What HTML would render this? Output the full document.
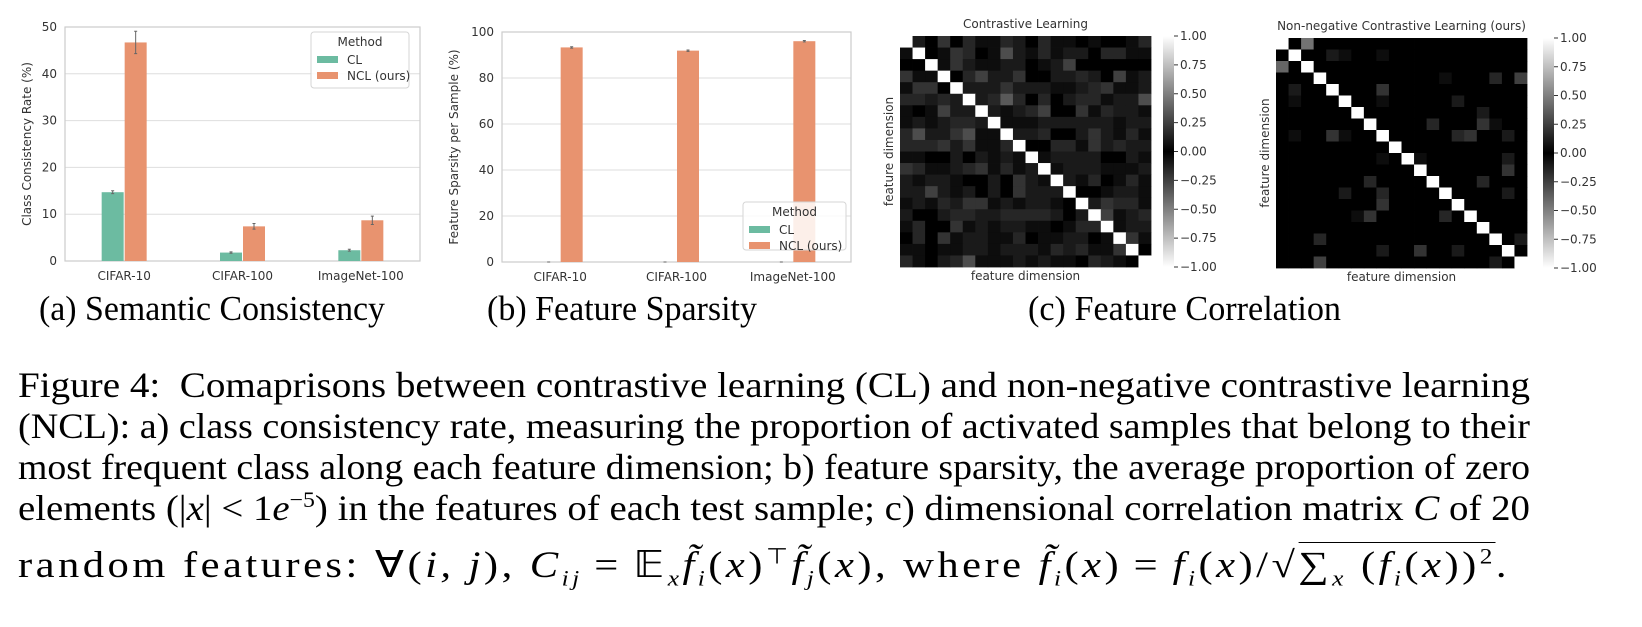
<!DOCTYPE html>
<html><head><meta charset="utf-8">
<style>
html,body{margin:0;padding:0;background:#fff;width:1642px;height:627px;overflow:hidden;position:relative}
svg{position:absolute;left:0;top:0}
.cap{position:absolute;font-family:"Liberation Serif",serif;font-size:35px;line-height:40px;color:#000;white-space:nowrap;transform-origin:0 0}
.line{position:absolute;left:18px;display:inline-block;font-family:"Liberation Serif",serif;font-size:36px;color:#000;white-space:nowrap;line-height:40px;transform-origin:0 0}
.m{font-style:italic}
sub,sup{line-height:0}
.eq{margin:0 10px}
</style></head>
<body>
<svg id="fig" width="1642" height="290" font-family="DejaVu Sans, Liberation Sans, sans-serif"></svg>

<div class="cap" data-w="346" style="left:39px;top:289px">(a) Semantic Consistency</div>
<div class="cap" data-w="270" style="left:487px;top:289px">(b) Feature Sparsity</div>
<div class="cap" data-w="313" style="left:1028px;top:289px">(c) Feature Correlation</div>

<div class="line" data-w="1512" style="top:365px">Figure 4:&nbsp; Comaprisons between contrastive learning (CL) and non-negative contrastive learning</div>
<div class="line" data-w="1512" style="top:406px">(NCL): a) class consistency rate, measuring the proportion of activated samples that belong to their</div>
<div class="line" data-w="1512" style="top:447px">most frequent class along each feature dimension; b) feature sparsity, the average proportion of zero</div>
<div class="line" data-w="1512" style="top:488px">elements (|<span class="m">x</span>| &lt; 1<span class="m">e</span><sup style="font-size:22px">−5</sup>) in the features of each test sample; c) dimensional correlation matrix <span class="m">C</span> of 20</div>
<div class="line" data-w="1492" style="top:546px;font-size:37px;letter-spacing:3px">random features: ∀(<span class="m">i, j</span>), <span class="m">C<sub style="font-size:22px">ij</sub></span><span class="eq">=</span>𝔼<sub style="font-size:22px" class="m">x</sub><span class="m">f̃<sub style="font-size:22px">i</sub></span>(<span class="m">x</span>)<sup style="font-size:22px">⊤</sup><span class="m">f̃<sub style="font-size:22px">j</sub></span>(<span class="m">x</span>), where <span class="m">f̃<sub style="font-size:22px">i</sub></span>(<span class="m">x</span>)<span class="eq">=</span><span class="m">f<sub style="font-size:22px">i</sub></span>(<span class="m">x</span>)/√<span style="border-top:1.5px solid #000;padding-top:2px">∑<sub style="font-size:22px" class="m">x</sub> (<span class="m">f<sub style="font-size:22px">i</sub></span>(<span class="m">x</span>))<sup style="font-size:22px">2</sup></span>.</div>

<script>
// fit caption text widths
document.querySelectorAll('.line, .cap').forEach(el => {
  const w = el.getBoundingClientRect().width;
  const t = parseFloat(el.getAttribute('data-w'));
  el.style.transform = 'scaleX(' + (t / w) + ')';
});

// ---------- data ----------
const categories = ["CIFAR-10", "CIFAR-100", "ImageNet-100"];
const consistencyCL = [14.7, 1.8, 2.3];
const consistencyNCL = [46.7, 7.4, 8.7];
const consistencyErrCL = [0.3, 0.15, 0.2];
const consistencyErrNCL = [2.4, 0.6, 0.9];
const consistencyTicks = [0, 10, 20, 30, 40, 50];
const sparsityCL = [0, 0, 0];
const sparsityNCL = [93.3, 91.9, 96.0];
const sparsityErrNCL = [0.3, 0.3, 0.3];
const sparsityTicks = [0, 20, 40, 60, 80, 100];
const colorbarTicks = [1.00, 0.75, 0.50, 0.25, 0.00, -0.25, -0.50, -0.75, -1.00];
const corrCL = [
[1,.1,0,.2,0,.15,.05,.05,.15,.1,0,.15,.05,.05,0,.05,0,0,.05,.15],
[.05,1,0,.05,.2,.15,0,.05,.3,.1,.05,.15,.05,.1,.1,0,.15,.15,.05,.05],
[0,0,1,.05,.2,.1,.05,.05,.1,.1,0,.05,.1,.25,0,0,0,0,0,0],
[.2,.05,.05,1,0,.15,.25,.1,.1,.2,0,0,.1,.1,.15,.1,0,.25,.05,.1],
[.05,.2,.2,0,1,.1,.1,.1,.2,.1,.1,.1,.05,.05,.1,.15,.2,.05,.05,.1],
[.15,.15,.1,.15,.1,1,.1,.15,.35,.15,0,.15,0,.1,.15,.15,.05,.1,.1,.3],
[.05,0,.05,.25,.1,.1,1,.1,.05,.1,.15,.25,0,0,.2,.05,.15,.1,.1,.05],
[.05,.1,.05,.1,.15,.15,.1,1,.05,.05,.05,.1,.1,.1,.1,.1,.1,.05,.1,.1],
[.15,.3,.1,.1,.2,.3,.05,.05,1,.1,.1,.15,0,0,.1,.2,.1,.05,.15,.05],
[.15,.15,.15,.2,.1,.2,.05,.05,.15,1,0,0,.15,.15,.05,.2,.1,.15,.1,.1],
[.05,.05,0,0,.1,0,.1,.05,.1,.05,1,.05,.1,.1,.1,.1,0,0,.1,.05],
[.2,.15,.05,.05,.1,.15,.2,.05,.15,.05,.1,1,.05,.1,.1,.1,.05,.05,.05,.1],
[.1,.05,.1,.1,.05,0,0,.1,0,.2,.1,.05,1,.1,.05,.15,0,.05,.15,.05],
[.1,.1,.25,.1,.05,.1,0,.1,0,.2,.1,.1,.1,1,0,0,.05,.1,.1,.05],
[.05,.1,.05,.15,.1,.2,.2,.05,.1,.05,.1,.1,.05,0,1,.1,.2,.15,.15,.05],
[.1,0,0,.1,.15,.15,.1,.1,.15,.15,.15,.15,.1,0,.1,1,.25,.05,.1,.15],
[.05,.15,0,0,.2,.05,.1,.05,.1,.1,.05,.05,0,.05,.15,.15,1,.05,.1,.1],
[0,.15,0,.2,.05,.1,.1,.05,.05,.15,0,.05,.05,.1,.1,0,.05,1,.2,.05],
[.05,.05,0,.05,.05,.1,.1,.05,.1,.1,.1,.05,.15,.1,.15,.05,.05,.2,1,0],
[.15,.05,0,.1,.15,.3,.05,.05,.05,.1,.05,.1,.05,.05,0,.15,.1,.05,0,1]
];
const nclRows = [0,2,1,1,1,3,3,3,4,4,5,5,5,6,7,7,7,8,8,8,8,8,8,10,10,10,11,12,12,13,13,13,14,15,15,15,17,17,18,18,18,19,19];
const nclCols = [2,0,4,5,8,13,17,19,1,8,1,8,14,16,12,16,17,1,4,5,14,15,18,8,11,18,18,7,16,5,8,18,8,6,7,13,3,19,8,11,14,3,17];
const nclVals = [.45,.4,.1,.05,.05,.05,.15,.25,.1,.2,.05,.05,.1,.1,.15,.2,.05,.05,.2,.05,.15,.2,.1,.05,.05,.1,.2,.15,.15,.1,.15,.1,.2,.05,.2,.15,.15,.1,.1,.2,.1,.25,.1];

// ---------- helpers ----------
const svg = document.getElementById('fig');
const NS = 'http://www.w3.org/2000/svg';
function mk(tag, attrs, parent) {
  const e = document.createElementNS(NS, tag);
  for (const k in attrs) e.setAttribute(k, attrs[k]);
  (parent || svg).appendChild(e);
  return e;
}
function txt(x, y, s, attrs, parent) {
  const t = mk('text', Object.assign({x: x, y: y, 'font-size': 12, fill: '#333'}, attrs || {}), parent);
  t.textContent = s;
  return t;
}
const CLc = '#6cbba1', NCLc = '#e8936f';

function barChart(cfg) {
  const g = mk('g', {});
  
  
  const yS = v => cfg.y0 - (v - cfg.ticks[0]) / (cfg.ticks[cfg.ticks.length - 1] - cfg.ticks[0]) * (cfg.y0 - cfg.y1);
  const step = (cfg.x1 - cfg.x0) / categories.length;
  const xC = i => cfg.x0 + step * (i + 0.5);
  cfg.ticks.forEach(t => {
    const gl = mk('line', {x1: cfg.x0, x2: cfg.x1, y1: yS(t), y2: yS(t), stroke: '#dedede', 'stroke-width': 1}, g);
    
    
    const tl = txt(cfg.x0 - 8, yS(t) + 4, String(t), {'text-anchor': 'end'}, g);
    
    
  });
  const fr = mk('rect', {x: cfg.x0, y: cfg.y1, width: cfg.x1 - cfg.x0, height: cfg.y0 - cfg.y1, fill: 'none', stroke: '#cccccc', 'stroke-width': 1.2}, g);
  
  
  const bw = 23;
  categories.forEach((c, i) => {
    const cx = xC(i);
    [[cfg.cl, cfg.errCL, CLc, cx - bw], [cfg.ncl, cfg.errNCL, NCLc, cx]].forEach((s, k) => {
      const v = s[0][i];
      const b = mk('rect', {x: s[3] + 0.5, y: yS(v), width: bw - 1, height: Math.max(0, yS(0) - yS(v)), fill: s[2]}, g);
      
      
      const e = s[1][i], ex = s[3] + bw / 2;
      const el = mk('path', {d: `M${ex},${yS(v + e)}V${yS(Math.max(0, v - e))}M${ex - 1.5},${yS(v + e)}h3M${ex - 1.5},${yS(Math.max(0, v - e))}h3`, stroke: '#666', 'stroke-width': 1, fill: 'none'}, g);
      
      
    });
    const xl = txt(cx, cfg.y0 + 19, c, {'text-anchor': 'middle'}, g);
    
    
  });
  const yl = txt(0, 0, cfg.ylabel, {'text-anchor': 'middle', transform: `translate(${cfg.ylx},${(cfg.y0 + cfg.y1) / 2}) rotate(-90)`}, g);
  
  
  const L = cfg.leg;
  const lg = mk('g', {}, g);
  
  
  mk('rect', {x: L.x, y: L.y, width: L.w, height: L.h, rx: 3, fill: 'rgba(255,255,255,0.85)', stroke: '#d5d5d5'}, lg);
  txt(L.x + L.w / 2, L.y + 14, 'Method', {'text-anchor': 'middle'}, lg);
  [['CL', CLc], ['NCL (ours)', NCLc]].forEach((it, k) => {
    const ey = L.y + 24 + k * 16;
    const p = mk('rect', {x: L.x + 6, y: ey, width: 21, height: 7, fill: it[1]}, lg);
    
    
    txt(L.x + 36, ey + 8, it[0], {}, lg);
  });
}

barChart({name: 'chart-semantic-consistency', x0: 65, x1: 420, y0: 261, y1: 27, ticks: consistencyTicks,
  cl: consistencyCL, ncl: consistencyNCL, errCL: consistencyErrCL, errNCL: consistencyErrNCL,
  ylabel: 'Class Consistency Rate (%)', ylx: 31, leg: {x: 311, y: 32, w: 98, h: 56}});
barChart({name: 'chart-feature-sparsity', x0: 502, x1: 851, y0: 262, y1: 32, ticks: sparsityTicks,
  cl: sparsityCL, ncl: sparsityNCL, errCL: [0, 0, 0], errNCL: sparsityErrNCL,
  ylabel: 'Feature Sparsity per Sample (%)', ylx: 458, leg: {x: 743, y: 202, w: 103, h: 48}});

function heatmap(cfg) {
  const g = mk('g', {});
  
  
  const n = cfg.data.length;
  const cw = (cfg.x1 - cfg.x0) / n, ch = (cfg.y1 - cfg.y0) / n;
  cfg.data.forEach((row, r) => row.forEach((v, c) => {
    const gr = Math.round(Math.abs(v) * 255);
    const cell = mk('rect', {x: cfg.x0 + c * cw, y: cfg.y0 + r * ch, width: cw + 0.4, height: ch + 0.4, fill: `rgb(${gr},${gr},${gr})`}, g);
    
    
  }));
  const t = txt((cfg.x0 + cfg.x1) / 2, cfg.y0 - 8, cfg.title, {'text-anchor': 'middle', 'font-size': 12}, g);
  
  
  const xl = txt((cfg.x0 + cfg.x1) / 2, cfg.y1 + 13, 'feature dimension', {'text-anchor': 'middle', 'font-size': 12}, g);
  
  
  const yl = txt(0, 0, 'feature dimension', {'text-anchor': 'middle', 'font-size': 12, transform: `translate(${cfg.x0 - 7},${(cfg.y0 + cfg.y1) / 2}) rotate(-90)`}, g);
  
  
  const gid = cfg.name + '-grad';
  const defs = mk('defs', {}, g);
  const lgd = mk('linearGradient', {id: gid, x1: 0, y1: 0, x2: 0, y2: 1}, defs);
  mk('stop', {offset: '0', 'stop-color': '#fff'}, lgd);
  mk('stop', {offset: '0.5', 'stop-color': '#000'}, lgd);
  mk('stop', {offset: '1', 'stop-color': '#fff'}, lgd);
  const cb = mk('rect', {x: cfg.cbx, y: cfg.y0, width: 11, height: cfg.y1 - cfg.y0, fill: `url(#${gid})`}, g);
  
  
  const cS = v => cfg.y0 + (1 - v) / 2 * (cfg.y1 - cfg.y0);
  colorbarTicks.forEach(v => {
    mk('line', {x1: cfg.cbx + 11, x2: cfg.cbx + 15, y1: cS(v), y2: cS(v), stroke: '#333'}, g);
    const tl = txt(cfg.cbx + 17, cS(v) + 4, (v < 0 ? '\u2212' : '') + Math.abs(v).toFixed(2), {}, g);
    
    
  });
}

const corrNCL = [];
for (let r = 0; r < 20; r++) { corrNCL.push([]); for (let c = 0; c < 20; c++) corrNCL[r].push(r === c ? 1 : 0); }
nclRows.forEach((r, k) => { corrNCL[r][nclCols[k]] = nclVals[k]; });

heatmap({name: 'heatmap-contrastive-learning', data: corrCL, x0: 900, x1: 1151, y0: 36, y1: 267, cbx: 1163, title: 'Contrastive Learning'});
heatmap({name: 'heatmap-non-negative-contrastive', data: corrNCL, x0: 1276, x1: 1527, y0: 38, y1: 268, cbx: 1543, title: 'Non-negative Contrastive Learning (ours)'});
</script>
</body></html>
